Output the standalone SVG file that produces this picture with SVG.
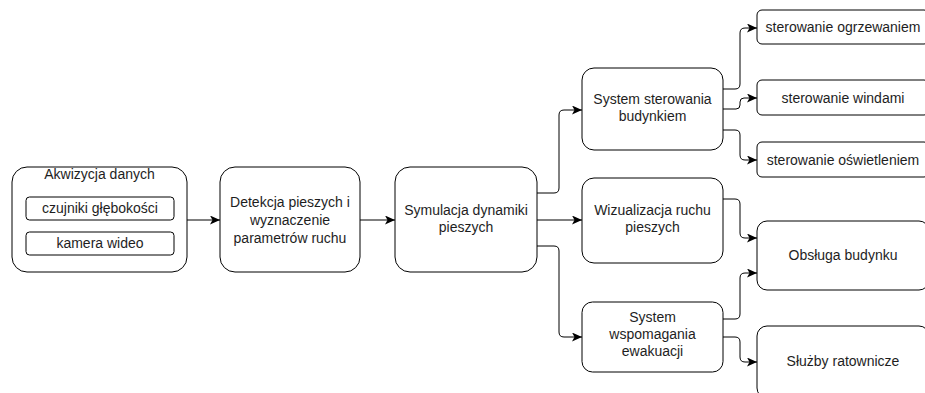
<svg xmlns="http://www.w3.org/2000/svg" width="925" height="393" viewBox="0 0 925 393">
<defs>
<marker id="arr" markerUnits="userSpaceOnUse" markerWidth="11" markerHeight="9" refX="10" refY="4.5" orient="auto">
<path d="M0,0 L10,4.5 L0,9 L2.5,4.5 Z" fill="#000"/>
</marker>
<style>
.box{fill:#fff;stroke:#000;stroke-width:1}
.t{font-family:"Liberation Sans",Arial,Helvetica,sans-serif;font-size:14px;fill:#1e1e1e;text-anchor:middle}
.c{fill:none;stroke:#000;stroke-width:1;marker-end:url(#arr)}
</style>
</defs>
<rect width="925" height="393" fill="#fff"/>
<g id="connectors">
<path class="c" d="M187,220 H220"/>
<path class="c" d="M360,220 H395"/>
<path class="c" d="M537,193 H554 Q559,193 559,188 V115 Q559,110 564,110 H582"/>
<path class="c" d="M537,220 H582"/>
<path class="c" d="M537,246 H554 Q559,246 559,251 V332 Q559,337 564,337 H582"/>
<path class="c" d="M723,89 H735 Q740,89 740,84 V33 Q740,28 745,28 H757"/>
<path class="c" d="M723,109 H736 Q740,109 740,105 V102 Q740,98 744,98 H757"/>
<path class="c" d="M723,130 H735 Q740,130 740,135 V155 Q740,160 745,160 H757"/>
<path class="c" d="M723,199 H735 Q740,199 740,204 V233 Q740,238 745,238 H757"/>
<path class="c" d="M723,319 H735 Q740,319 740,314 V278 Q740,273 745,273 H757"/>
<path class="c" d="M723,337 H735 Q740,337 740,342 V357 Q740,362 745,362 H757"/>
</g>
<g id="akwizycja">
<rect class="box" x="12" y="167" width="175" height="105" rx="15"/>
<text class="t" x="99.5" y="179">Akwizycja danych</text>
</g>
<g id="czujniki">
<rect class="box" x="26" y="197" width="148" height="23" rx="3.5"/>
<text class="t" x="100" y="213">czujniki głębokości</text>
</g>
<g id="kamera">
<rect class="box" x="26" y="232" width="148" height="23" rx="3.5"/>
<text class="t" x="100" y="248">kamera wideo</text>
</g>
<g id="detekcja">
<rect class="box" x="220" y="167" width="140" height="105" rx="15"/>
<text class="t" x="290" y="207">Detekcja pieszych i</text>
<text class="t" x="290" y="225">wyznaczenie</text>
<text class="t" x="290" y="243">parametrów ruchu</text>
</g>
<g id="symulacja">
<rect class="box" x="395" y="167" width="142" height="105" rx="15"/>
<text class="t" x="466" y="215">Symulacja dynamiki</text>
<text class="t" x="466" y="232">pieszych</text>
</g>
<g id="sterowania">
<rect class="box" x="582" y="68" width="141" height="82" rx="12"/>
<text class="t" x="652.5" y="104">System sterowania</text>
<text class="t" x="652.5" y="121">budynkiem</text>
</g>
<g id="wizualizacja">
<rect class="box" x="582" y="178" width="141" height="85" rx="12"/>
<text class="t" x="652.5" y="215">Wizualizacja ruchu</text>
<text class="t" x="652.5" y="232">pieszych</text>
</g>
<g id="ewakuacja">
<rect class="box" x="582" y="302" width="141" height="70" rx="10.5"/>
<text class="t" x="652.5" y="322">System</text>
<text class="t" x="652.5" y="339">wspomagania</text>
<text class="t" x="652.5" y="356">ewakuacji</text>
</g>
<g id="ogrzewanie">
<rect class="box" x="757" y="10" width="172" height="34" rx="5"/>
<text class="t" x="843" y="32">sterowanie ogrzewaniem</text>
</g>
<g id="windy">
<rect class="box" x="757" y="80" width="172" height="35" rx="5"/>
<text class="t" x="843" y="102.5">sterowanie windami</text>
</g>
<g id="oswietlenie">
<rect class="box" x="757" y="142" width="172" height="35" rx="5"/>
<text class="t" x="843" y="164.5">sterowanie oświetleniem</text>
</g>
<g id="obsluga">
<rect class="box" x="757" y="221" width="172" height="69" rx="10"/>
<text class="t" x="843" y="260">Obsługa budynku</text>
</g>
<g id="sluzby">
<rect class="box" x="757" y="326" width="172" height="72" rx="10"/>
<text class="t" x="843" y="366">Służby ratownicze</text>
</g>
</svg>
